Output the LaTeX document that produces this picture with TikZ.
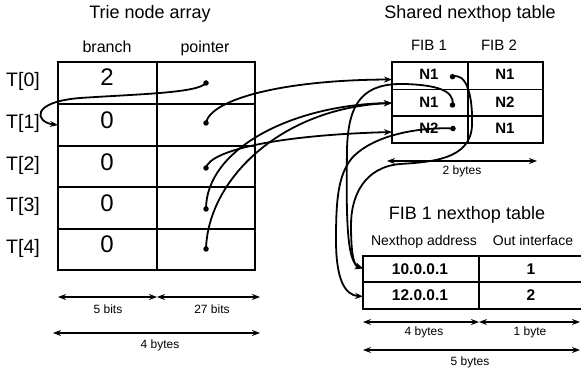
\documentclass[tikz,border=0pt]{standalone}
\usepackage{fontspec}
\setmainfont{Liberation Sans}
\usetikzlibrary{arrows.meta}
\begin{document}
\begin{tikzpicture}[x=1pt,y=-1pt,
  capc/.style={inner sep=0pt, text height=0.716em, text depth=0pt, anchor=center},
  title/.style={capc, font=\fontsize{18}{20}\selectfont},
  hdrA/.style={capc, font=\fontsize{16}{18}\selectfont},
  hdrB/.style={capc, font=\fontsize{15}{17}\selectfont},
  hdrC/.style={capc, font=\fontsize{14}{16}\selectfont},
  tlab/.style={capc, font=\fontsize{19.5}{21}\selectfont},
  bigval/.style={capc, font=\fontsize{24}{26}\selectfont},
  cellval/.style={capc, font=\fontsize{15}{17}\selectfont\bfseries},
  fibval/.style={capc, font=\fontsize{15.5}{17}\selectfont\bfseries},
  dimlab/.style={capc, font=\fontsize{12}{14}\selectfont},
  outer/.style={line width=2.6pt},
  inner/.style={line width=1.1pt},
  ptr/.style={line width=1.8pt, -{Stealth[length=8pt,width=6pt]}},
  dimarrow/.style={line width=1.7pt, {Stealth[length=8pt,width=6pt]}-{Stealth[length=8pt,width=6pt]}},
  dotc/.style={circle, fill, inner sep=0pt, minimum size=5.5pt}]
\useasboundingbox (0,0) rectangle (581,374);
\fill[white] (0,0) rectangle (581,374);

% ---------- Trie node array ----------
\node[title] (ttitle) at (150,14.5) {Trie node array};
\node[hdrA] (hbranch) at (107,48.5) {branch};
\node[hdrA] (hpointer) at (205,48.5) {pointer};
\foreach \y in {104,146,187,229} \draw[inner] (58,\y) -- (255,\y);
\draw[inner] (157,62) -- (157,270);
\draw[outer] (58,62) rectangle (255,270);
\node[tlab] (t0) at (23,83) {T[0]};
\node[tlab] (t1) at (23,124.5) {T[1]};
\node[tlab] (t2) at (23,166.5) {T[2]};
\node[tlab] (t3) at (23,208) {T[3]};
\node[tlab] (t4) at (23,249.5) {T[4]};
\node[bigval] (v0) at (107,82) {2};
\node[bigval] (v1) at (107,124.5) {0};
\node[bigval] (v2) at (107,166.5) {0};
\node[bigval] (v3) at (107,207.5) {0};
\node[bigval] (v4) at (107,249) {0};
\node[dotc] (d0) at (206,83) {};
\node[dotc] (d1) at (206,123) {};
\node[dotc] (d2) at (206,168) {};
\node[dotc] (d3) at (206,209) {};
\node[dotc] (d4) at (206,249) {};
\coordinate (t1in) at (58,125);

% dimensions trie
\coordinate (ta) at (58,297); \coordinate (tb) at (157,297); \coordinate (tc) at (260,297);
\draw[dimarrow] (ta) -- (tb);
\draw[dimarrow] (tb) -- (tc);
\node[dimlab] (l5bits) at (108,309.5) {5 bits};
\node[dimlab] (l27bits) at (212,309.5) {27 bits};
\coordinate (td) at (53,333); \coordinate (te) at (260,333);
\draw[dimarrow] (td) -- (te);
\node[dimlab] (l4bytes) at (160,344.5) {4 bytes};

% ---------- Shared nexthop table ----------
\node[title] (stitle) at (470,14.5) {Shared nexthop table};
\node[hdrB] (hfib1) at (429,47) {FIB 1};
\node[hdrB] (hfib2) at (499,47) {FIB 2};
\foreach \y in {89.3,116} \draw[inner] (392,\y) -- (543,\y);
\draw[inner] (468,62) -- (468,143);
\draw[outer] (392,62) rectangle (543,143);
\node[cellval] (n11) at (429,76.3) {N1};
\node[cellval] (n21) at (429,103.5) {N1};
\node[cellval] (n31) at (429,130.3) {N2};
\node[cellval] (n12) at (505,76.3) {N1};
\node[cellval] (n22) at (505,103.5) {N2};
\node[cellval] (n32) at (505,130.3) {N1};
\node[dotc] (e1) at (452.5,76.7) {};
\node[dotc] (e2) at (452.5,105) {};
\node[dotc] (e3) at (453,128.5) {};
\coordinate (s1) at (392,79.5);
\coordinate (s2) at (392,103);
\coordinate (s3) at (392,132);
\coordinate (sa) at (387,161); \coordinate (sb) at (537,161);
\draw[dimarrow] (sa) -- (sb);
\node[dimlab] (l2bytes) at (462,170.5) {2 bytes};

% ---------- FIB 1 nexthop table ----------
\node[title] (ftitle) at (467,216) {FIB 1 nexthop table};
\node[hdrC] (hnh) at (424,241.7) {Nexthop address};
\node[hdrC] (hoi) at (533,241.7) {Out interface};
\draw[inner] (363,282) -- (586,282);
\draw[inner] (479,256) -- (479,309);
\draw[outer] (363,256) rectangle (588,309);
\node[fibval] (a1) at (420,270.8) {10.0.0.1};
\node[fibval] (a2) at (420,297.3) {12.0.0.1};
\node[fibval] (o1) at (531,270.8) {1};
\node[fibval] (o2) at (531,297.3) {2};
\coordinate (f1) at (363,268.5);
\coordinate (f2) at (363,296.5);
\coordinate (fa) at (363,322); \coordinate (fb) at (479,322); \coordinate (fc) at (580,322);
\draw[dimarrow] (fa) -- (fb);
\draw[dimarrow] (fb) -- (fc);
\node[dimlab] (lf4) at (424,332) {4 bytes};
\node[dimlab] (lf1) at (530,332) {1 byte};
\coordinate (fd) at (363,350); \coordinate (fe) at (580,350);
\draw[dimarrow] (fd) -- (fe);
\node[dimlab] (lf5) at (470,361.5) {5 bytes};

% ---------- pointers ----------
\draw[ptr] (d0.center) .. controls (198,93) and (140,94) .. (80,98) .. controls (30,102) and (35,122) .. (t1in);
\draw[ptr] (d1.center) .. controls (210,100) and (280,80) .. (s1);
\draw[ptr] (d2.center) .. controls (210,150) and (280,135) .. (s3);
\draw[ptr] (d3.center) .. controls (206,150) and (290,105) .. (s2);
\draw[ptr] (d4.center) .. controls (208,180) and (280,108) .. (s2);

\draw[ptr] (e1.center) .. controls (466,72) and (473,95) .. (472,125)
  .. controls (471,160) and (430,162) .. (400,164)
  .. controls (365,167) and (351,195) .. (351,225)
  .. controls (351,255) and (354,266) .. (f1);
\draw[ptr] (e2.center) .. controls (455,90) and (435,85) .. (405,84)
  .. controls (365,83) and (348,100) .. (347,150)
  .. controls (346,220) and (347,262) .. (f1);
\draw[ptr] (e3.center) .. controls (425,127) and (375,133) .. (352,158)
  .. controls (338,175) and (336,200) .. (336,240)
  .. controls (336,280) and (345,295) .. (f2);
\end{tikzpicture}
\end{document}
